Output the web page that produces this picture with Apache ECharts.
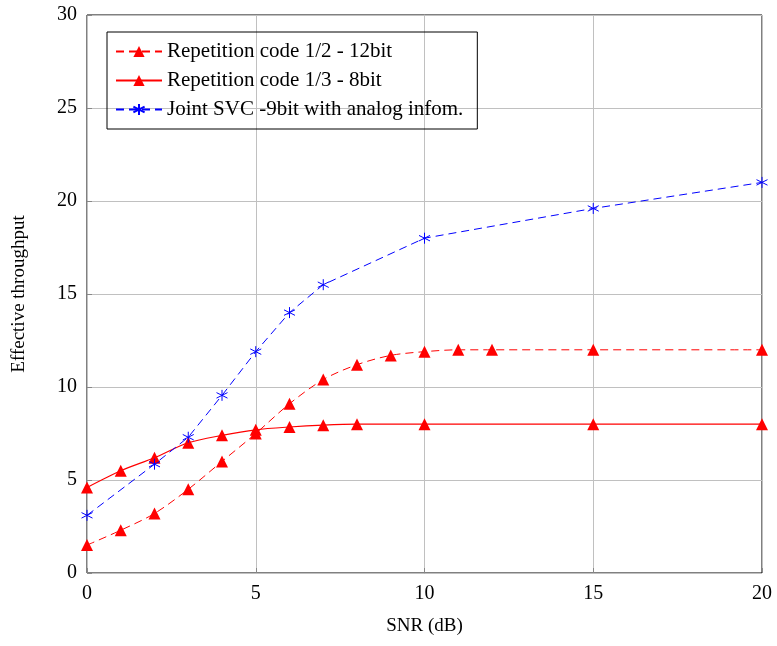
<!DOCTYPE html>
<html><head><meta charset="utf-8">
<script src="https://cdn.jsdelivr.net/npm/echarts@6/dist/echarts.min.js"></script>
<style>html,body{margin:0;padding:0;background:#fff}#c{width:777px;height:646px}</style>
</head><body><div id="c"></div>
<script>
const names = ['Repetition code 1/2 - 12bit','Repetition code 1/3 - 8bit','Joint SVC -9bit with analog infom.'];
const x1 = [0,1,2,3,4,5,6,7,8,9,10,11,12,15,20];
const y1 = [1.5,2.3,3.2,4.5,6.0,7.5,9.1,10.4,11.2,11.7,11.9,12.0,12.0,12.0,12.0];
const x2 = [0,1,2,3,4,5,6,7,8,10,15,20];
const y2 = [4.6,5.5,6.2,7.0,7.4,7.7,7.85,7.95,8.0,8.0,8.0,8.0];
const x3 = [0,2,3,4,5,6,7,10,15,20];
const y3 = [3.1,5.85,7.3,9.55,11.9,14.0,15.5,18.0,19.6,21.0];
const xTicks = [0,5,10,15,20];
const yTicks = [0,5,10,15,20,25,30];

const pairs = (xs, ys) => xs.map((x,i)=>[x,ys[i]]);
const FONT = 'Liberation Serif';
const star = 'path://M0,-10 L0,10 M-8.66,-5 L8.66,5 M-8.66,5 L8.66,-5';

const chart = echarts.init(document.getElementById('c'));
chart.setOption({
  animation:false,
  textStyle:{fontFamily:FONT},
  grid:{left:87,right:15,top:15,bottom:73,show:true,borderColor:'#000',borderWidth:1},
  legend:{
    orient:'vertical', left:107, top:32, itemGap:8, itemWidth:46, itemHeight:14,
    borderColor:'#000', borderWidth:1, padding:[9,14,9,8],
    textStyle:{fontFamily:FONT,fontSize:21,color:'#000'},
    data:names
  },
  xAxis:{type:'value',min:0,max:20,interval:5,
    name:'SNR (dB)',nameLocation:'middle',nameGap:44,
    nameTextStyle:{fontFamily:FONT,fontSize:19,color:'#000'},
    axisLine:{show:false},
    axisTick:{show:true,inside:true,length:5,lineStyle:{color:'#888'}},
    axisLabel:{fontFamily:FONT,fontSize:20,color:'#000',margin:11},
    splitLine:{show:true,lineStyle:{color:'#c0c0c0',width:1}}
  },
  yAxis:{type:'value',min:0,max:30,interval:5,
    name:'Effective throughput',nameLocation:'middle',nameGap:58,
    nameTextStyle:{fontFamily:FONT,fontSize:19,color:'#000'},
    axisLine:{show:false},
    axisTick:{show:true,inside:true,length:5,lineStyle:{color:'#888'}},
    axisLabel:{fontFamily:FONT,fontSize:20,color:'#000',margin:10},
    splitLine:{show:true,lineStyle:{color:'#c0c0c0',width:1}}
  },
  series:[
    {name:names[0],type:'line',data:pairs(x1,y1),smooth:0.3,
     symbol:'triangle',symbolSize:12,
     lineStyle:{color:'#ff0000',width:1,type:[8,5]},
     itemStyle:{color:'#ff0000'}},
    {name:names[1],type:'line',data:pairs(x2,y2),smooth:0.3,
     symbol:'triangle',symbolSize:12,
     lineStyle:{color:'#ff0000',width:1.2,type:'solid'},
     itemStyle:{color:'#ff0000'}},
    {name:names[2],type:'line',data:pairs(x3,y3),
     symbol:star,symbolSize:11,
     lineStyle:{color:'#0000ff',width:1,type:[8,5]},
     itemStyle:{color:'rgba(0,0,0,0)',borderColor:'#0000ff',borderWidth:1}}
  ]
});
</script></body></html>
